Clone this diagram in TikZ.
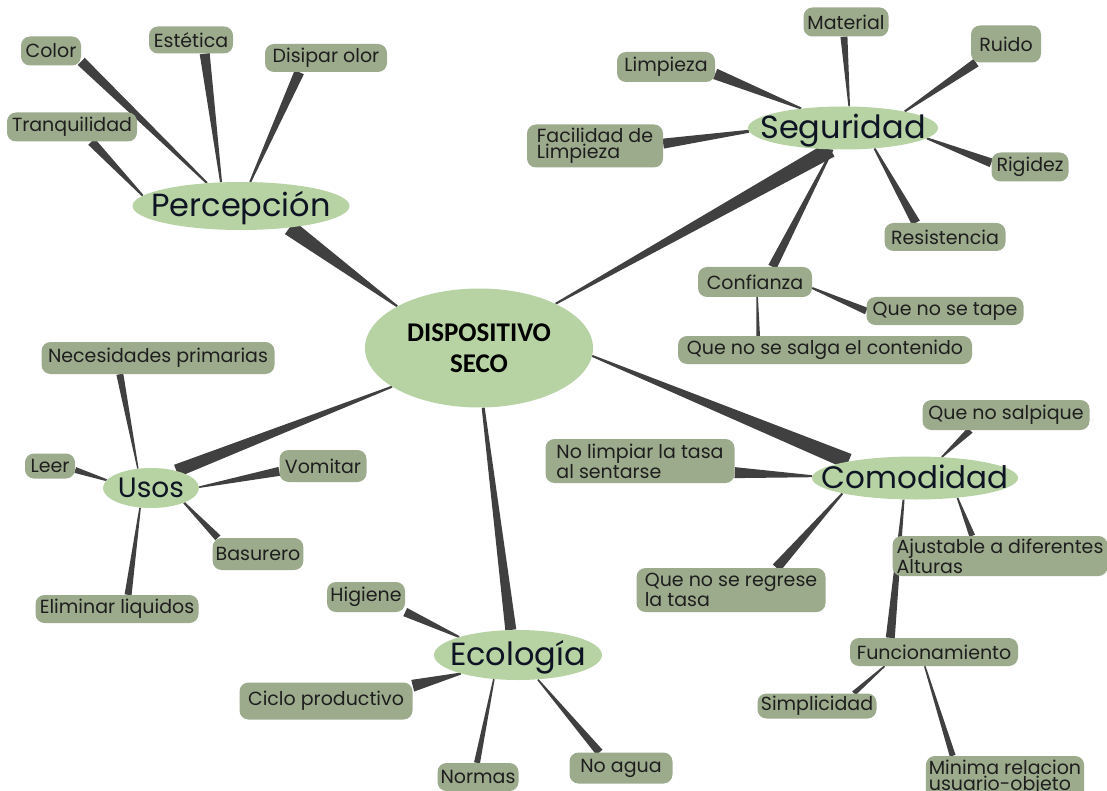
\documentclass[tikz,border=0pt]{standalone}
\usepackage{fontspec}
\setmainfont{Poppins}
\newfontfamily\carl{Carlito}
\usetikzlibrary{shapes.geometric,calc,backgrounds}
\definecolor{boxc}{RGB}{157,171,141}
\definecolor{ellc}{RGB}{183,211,163}
\definecolor{linkc}{RGB}{64,64,64}
\definecolor{txtc}{RGB}{30,30,30}
\definecolor{ttlc}{RGB}{14,20,36}
\newcommand\conn[4]{%
  \fill[linkc] let \p1=(#1), \p2=(#2), \n1={atan2(\y2-\y1,\x2-\x1)} in
  ($(\p1)+(\n1+90:#3pt)$) -- ($(\p2)+(\n1+90:#4pt)$) --
  ($(\p2)+(\n1-90:#4pt)$) -- ($(\p1)+(\n1-90:#3pt)$) -- cycle;}
\newcommand\etext[1]{\raisebox{-0.34em}[0pt][0pt]{\makebox[0pt]{#1}}}
\tikzset{
  box/.style={rectangle, rounded corners=9pt, fill=boxc, text=txtc,
    font=\fontsize{19}{19}\selectfont, inner xsep=3pt, inner ysep=0pt,
    minimum height=28pt},
  boxtwo/.style={box, align=left, font=\fontsize{19}{14}\selectfont},
  topic/.style={ellipse, fill=ellc, text=ttlc, inner sep=0pt,
    font=\fontsize{32}{32}\selectfont},
}
\begin{document}
\begin{tikzpicture}[x=1pt,y=-1pt]
\useasboundingbox (0,0) rectangle (1107,791);
% central
\node[ellipse, fill=ellc, text=black, inner sep=0pt, minimum width=228pt, minimum height=119pt,
  align=center, font=\carl\bfseries\fontsize{27}{31}\selectfont] (main) at (479,348) {DISPOSITIVO\\SECO};
% Percepcion
\node[topic, minimum width=217pt, minimum height=48pt] (perc) at (241,206) {\etext{Percepción}};
\node[box, minimum width=60pt, minimum height=29pt] (color) at (51,51) {Color};
\node[box, minimum width=84pt, minimum height=27pt] (estet) at (191,40) {Estética};
\node[box, minimum width=122pt] (disip) at (326,58) {Disipar olor};
\node[box, minimum width=130pt, minimum height=29pt] (tranq) at (72,127) {Tranquilidad};
% Seguridad
\node[topic, minimum width=190pt, minimum height=43pt] (segu) at (843,128) {\etext{Seguridad}};
\node[box, minimum width=85pt, minimum height=29pt] (mater) at (846,22) {Material};
\node[box, minimum width=70pt, minimum height=37pt] (ruido) at (1006,44) {Ruido};
\node[box, minimum width=98pt, minimum height=30pt] (limp) at (666,67) {Limpieza};
\node[boxtwo, minimum width=136pt, minimum height=43pt] (facil) at (595,146) {Facilidad de\\Limpieza};
\node[box, minimum width=77pt, minimum height=29pt] (rigid) at (1030,167) {Rigidez};
\node[box, minimum width=121pt] (resis) at (945,237) {Resistencia};
\node[box, minimum width=114pt, minimum height=30pt] (confi) at (755,282) {Confianza};
\node[box, minimum width=157pt] (tape) at (945,311) {Que no se tape};
\node[box, minimum width=294pt] (salga) at (825,350) {Que no se salga el contenido};
% Comodidad
\node[topic, minimum width=206pt, minimum height=43pt, font=\fontsize{31}{31}\selectfont] (comod) at (915,478) {\etext{Comodidad}};
\node[box, minimum width=167pt, minimum height=30pt] (salpi) at (1006,415) {Que no salpique};
\node[boxtwo, minimum width=189pt, minimum height=44pt] (nolim) at (640,461) {No limpiar la tasa\\al sentarse};
\node[boxtwo, minimum width=215pt, minimum height=40pt] (ajust) at (1000,556) {Ajustable a diferentes\\Alturas};
\node[boxtwo, minimum width=189pt, minimum height=44pt] (regre) at (731,590) {Que no se regrese\\la tasa};
\node[box, minimum width=168pt] (funci) at (934,652) {Funcionamiento};
\node[box, minimum width=119pt, minimum height=25pt] (simpl) at (817,706) {Simplicidad};
\node[boxtwo, minimum width=156pt, minimum height=44pt] (minim) at (1005,778) {Minima relacion\\usuario-objeto};
% Usos
\node[topic, minimum width=96pt, minimum height=40pt, font=\fontsize{28}{28}\selectfont] (usos) at (151,488) {\etext{Usos}};
\node[box, minimum width=233pt, minimum height=32pt] (neces) at (158,358) {Necesidades primarias};
\node[box, minimum width=50pt, minimum height=25pt] (leer) at (50,466) {Leer};
\node[box, minimum width=87pt, minimum height=32pt] (vomit) at (323,466) {Vomitar};
\node[box, minimum width=89pt, minimum height=32pt] (basur) at (258,554) {Basurero};
\node[box, minimum width=163pt] (elimi) at (117,609) {Eliminar liquidos};
% Ecologia
\node[topic, minimum width=168pt, minimum height=50pt] (ecol) at (518,655) {\etext{Ecología}};
\node[box, minimum width=78pt, minimum height=30pt] (higie) at (366,597) {Higiene};
\node[box, minimum width=173pt, minimum height=37pt] (ciclo) at (326,701) {Ciclo productivo};
\node[box, minimum width=81pt] (norma) at (478,777) {Normas};
\node[box, minimum width=103pt, minimum height=31pt] (noagu) at (621,768) {No agua};
% connectors
\begin{scope}[on background layer]
\conn{main.153}{perc.-24}{1}{8}
\conn{perc.146}{color.-19}{1}{5}
\conn{perc.130}{estet.-45}{1}{5}
\conn{perc.69}{disip.-152}{1}{5}
\conn{perc.174}{tranq.-37}{1}{4.5}
\conn{main.30}{segu.-120}{1}{8}
\conn{segu.155}{limp.-8}{1}{5.5}
\conn{segu.74}{mater.-98}{0.8}{3.5}
\conn{segu.15}{ruido.-148}{1}{4.5}
\conn{segu.182}{facil.2}{1.5}{5}
\conn{segu.-7}{rigid.174}{1}{4.5}
\conn{segu.-33}{resis.154}{1}{4.5}
\conn{segu.-116}{confi.41}{1}{4.5}
\conn{confi.-6}{tape.180}{1}{3.5}
\conn{confi.-82}{salga.168}{0.8}{1.8}
\conn{main.-4.5}{comod.166.6}{1}{8}
\conn{comod.38}{salpi.-157}{0.8}{3.5}
\conn{comod.179}{nolim.-7}{1}{5.5}
\conn{comod.-25}{ajust.144}{0.8}{3}
\conn{comod.-168}{regre.26}{1}{5}
\conn{comod.-118}{funci.162}{1}{4.5}
\conn{funci.-164}{simpl.19}{0.8}{2.5}
\conn{funci.-123}{minim.157}{0.8}{3}
\conn{main.-156}{usos.34}{1}{6.5}
\conn{usos.124}{neces.-157}{0.7}{3.5}
\conn{usos.170}{leer.-9}{1}{3}
\conn{usos.1}{vomit.-173}{0.8}{4.5}
\conn{usos.-24}{basur.158}{1}{3.5}
\conn{usos.-119}{elimi.52}{0.8}{3.5}
\conn{main.-86}{ecol.106}{1.5}{5.5}
\conn{ecol.163.6}{higie.-21}{1}{4.5}
\conn{ecol.-162}{ciclo.10}{1}{6}
\conn{ecol.-135}{norma.94}{0.8}{3}
\conn{ecol.-51}{noagu.144}{0.8}{4}
\end{scope}
\end{tikzpicture}
\end{document}
